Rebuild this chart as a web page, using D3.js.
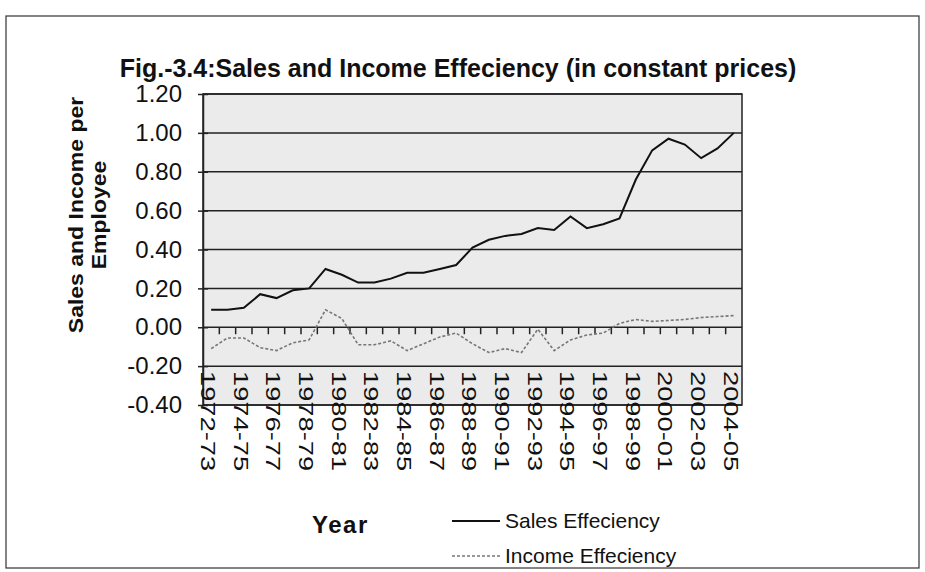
<!DOCTYPE html>
<html>
<head>
<meta charset="utf-8">
<script src="https://cdnjs.cloudflare.com/ajax/libs/d3/7.8.5/d3.min.js"></script>
<style>
  body { margin: 0; background: #fff; }
  text { font-family: Arial, "Liberation Sans", sans-serif; }
</style>
</head>
<body>
<svg id="chart"></svg>
<script>
var years = ["1972-73","1973-74","1974-75","1975-76","1976-77","1977-78","1978-79","1979-80",
  "1980-81","1981-82","1982-83","1983-84","1984-85","1985-86","1986-87","1987-88","1988-89",
  "1989-90","1990-91","1991-92","1992-93","1993-94","1994-95","1995-96","1996-97","1997-98",
  "1998-99","1999-00","2000-01","2001-02","2002-03","2003-04","2004-05"];
var salesEff = [0.09,0.09,0.10,0.17,0.15,0.19,0.20,0.30,0.27,0.23,0.23,0.25,0.28,0.28,0.30,0.32,0.41,
  0.45,0.47,0.48,0.51,0.50,0.57,0.51,0.53,0.56,0.76,0.91,0.97,0.94,0.87,0.92,1.00];
var incomeEff = [-0.11,-0.055,-0.055,-0.105,-0.12,-0.08,-0.065,0.09,0.045,-0.09,-0.09,-0.07,-0.12,-0.085,
  -0.05,-0.03,-0.085,-0.13,-0.11,-0.13,-0.01,-0.12,-0.065,-0.04,-0.03,0.02,0.04,0.03,0.035,0.04,0.05,0.055,0.06];
var yTicks = [-0.40,-0.20,0.00,0.20,0.40,0.60,0.80,1.00,1.20];
var seriesNames = ["Sales Effeciency","Income Effeciency"];

var W = 925, H = 572;
var plot = {left: 203, right: 742, top: 94, bottom: 405};

var svg = d3.select("#chart").attr("width", W).attr("height", H);

// outer frame
svg.append("rect").attr("x", 6).attr("y", 16).attr("width", 913).attr("height", 552)
  .attr("fill", "#fff").attr("stroke", "#333").attr("stroke-width", 1.2);

var x = d3.scaleBand().domain(years).range([plot.left, plot.right]).padding(0);
var y = d3.scaleLinear().domain([-0.4, 1.2]).range([plot.bottom, plot.top]);
function cx(d){ return x(d) + x.bandwidth() / 2; }

// plot area
svg.append("rect").attr("x", plot.left).attr("y", plot.top)
  .attr("width", plot.right - plot.left).attr("height", plot.bottom - plot.top)
  .attr("fill", "#ebebeb").attr("stroke", "#222").attr("stroke-width", 1.5);

// gridlines
svg.append("g").selectAll("line").data(yTicks).enter().append("line")
  .attr("x1", plot.left).attr("x2", plot.right)
  .attr("y1", function(d){ return y(d); }).attr("y2", function(d){ return y(d); })
  .attr("stroke", "#222").attr("stroke-width", 1.5);

// y axis
var yAxis = d3.axisLeft(y).tickValues(yTicks).tickSizeInner(5).tickSizeOuter(0).tickPadding(16)
  .tickFormat(function(d){ return d.toFixed(2); });
var yG = svg.append("g").attr("transform", "translate(" + plot.left + ",0)").call(yAxis);
yG.select(".domain").attr("stroke", "#222").attr("stroke-width", 1.5);
yG.selectAll(".tick line").attr("x1", -5).attr("x2", 5).attr("stroke", "#222").attr("stroke-width", 1.5);
yG.selectAll(".tick text").attr("font-size", 24).attr("fill", "#111")
  .style("font-family", "Arial, 'Liberation Sans', sans-serif");

// category ticks on the zero line
var bounds = years.slice(1);
svg.append("g").selectAll("line").data(bounds).enter().append("line")
  .attr("x1", function(d){ return x(d); }).attr("x2", function(d){ return x(d); })
  .attr("y1", y(0)).attr("y2", y(0) + 7)
  .attr("stroke", "#222").attr("stroke-width", 1.5);

// category labels, every second year, rotated
svg.append("g").selectAll("text").data(years.filter(function(d, i){ return i % 2 === 0; }))
  .enter().append("text")
  .attr("transform", function(d){ return "translate(" + (cx(d) - 3) + ",371) rotate(90) scale(1.3,1)"; })
  .attr("dominant-baseline", "central")
  .attr("font-size", 21).attr("fill", "#111")
  .text(function(d){ return d; });

// lines
var line = d3.line()
  .x(function(d, i){ return cx(years[i]); })
  .y(function(d){ return y(d); });

svg.append("path").attr("d", line(incomeEff))
  .attr("fill", "none").attr("stroke", "#777").attr("stroke-width", 1.6)
  .attr("stroke-dasharray", "3,2");

svg.append("path").attr("d", line(salesEff))
  .attr("fill", "none").attr("stroke", "#111").attr("stroke-width", 2);

// title
svg.append("text").attr("x", 458).attr("y", 77).attr("text-anchor", "middle")
  .attr("font-size", 25).attr("font-weight", "bold").attr("fill", "#111")
  .text("Fig.-3.4:Sales and Income Effeciency (in constant prices)");

// y axis title
var yTitle = svg.append("g").attr("transform", "translate(83,215) rotate(-90) scale(1.15,1)");
yTitle.append("text").attr("text-anchor", "middle").attr("font-size", 20).attr("font-weight", "bold")
  .attr("fill", "#111").text("Sales and Income per");
yTitle.append("text").attr("text-anchor", "middle").attr("y", 23).attr("font-size", 20).attr("font-weight", "bold")
  .attr("fill", "#111").text("Employee");

// x axis title
svg.append("text").attr("x", 312).attr("y", 533)
  .attr("font-size", 24).attr("font-weight", "bold").attr("letter-spacing", 1.5).attr("fill", "#111")
  .text("Year");

// legend
var legend = svg.append("g");
var legendY = [521, 556];
legend.selectAll("line").data(seriesNames).enter().append("line")
  .attr("x1", 452).attr("x2", 500)
  .attr("y1", function(d, i){ return legendY[i]; }).attr("y2", function(d, i){ return legendY[i]; })
  .attr("stroke", function(d, i){ return i === 0 ? "#111" : "#777"; })
  .attr("stroke-width", function(d, i){ return i === 0 ? 2 : 1.6; })
  .attr("stroke-dasharray", function(d, i){ return i === 0 ? null : "3,2"; });
legend.selectAll("text").data(seriesNames).enter().append("text")
  .attr("x", 505).attr("y", function(d, i){ return legendY[i] + 7; })
  .attr("font-size", 21).attr("fill", "#111")
  .text(function(d){ return d; });
</script>
</body>
</html>
